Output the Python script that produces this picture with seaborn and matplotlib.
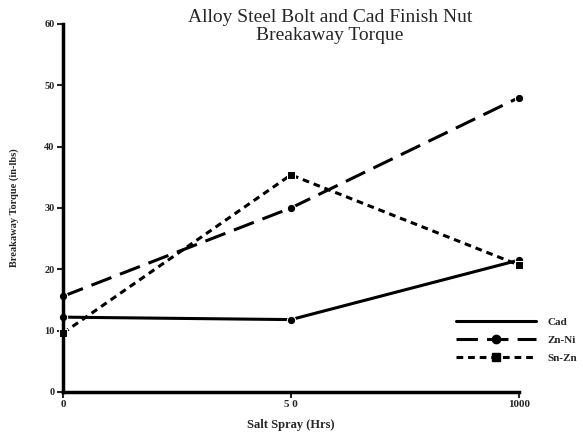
import numpy as np
import pandas as pd
import seaborn as sns
import matplotlib.pyplot as plt
from matplotlib.lines import Line2D

sns.set_style("white")
plt.rcParams["font.family"] = ["Liberation Serif", "DejaVu Serif"]

hours = ["0", "5 0", "1000"]
cad = [12.2, 11.8, 21.5]
zn_ni = [15.6, 30.0, 48.0]
sn_zn = [9.6, 35.4, 20.7]

df = pd.DataFrame({
    "pos": list(range(len(hours))) * 3,
    "torque": cad + zn_ni + sn_zn,
    "coating": ["Cad"] * 3 + ["Zn-Ni"] * 3 + ["Sn-Zn"] * 3,
})

fig = plt.figure(figsize=(5.83, 4.36), dpi=100)
ax = fig.add_axes([0.108, 0.101, 0.782, 0.844])

sns.lineplot(data=df, x="pos", y="torque", style="coating", color="black",
             dashes={"Cad": "", "Zn-Ni": (7, 3), "Sn-Zn": (2.2, 1.6)},
             markers={"Cad": "o", "Zn-Ni": "o", "Sn-Zn": "s"},
             markersize=6, linewidth=2.2, ax=ax, legend=False)
for ln in ax.lines:
    ln.set_clip_on(False)

ax.set_xlim(0, 2)
ax.set_ylim(0, 60)
ax.set_xticks(range(len(hours)))
ax.set_xticklabels(hours, fontsize=8, fontweight="bold")
ax.set_yticks(range(0, 61, 10))
ax.set_yticklabels([str(v) for v in range(0, 61, 10)], fontsize=7.5, fontweight="bold")
ax.tick_params(axis="both", direction="out", length=4, width=1.5, pad=2,
               bottom=True, left=True)
sns.despine(ax=ax)
for s in ["left", "bottom"]:
    ax.spines[s].set_linewidth(2.5)
    ax.spines[s].set_color("black")

ax.set_xlabel("Salt Spray (Hrs)", fontsize=9, fontweight="bold", labelpad=7)
ax.set_ylabel("Breakaway Torque (in-lbs)", fontsize=7.5, fontweight="bold", labelpad=18)

fig.text(0.566, 0.98, "Alloy Steel Bolt and Cad Finish Nut\nBreakaway Torque",
         ha="center", va="top", fontsize=14, linespacing=1.1)

handles = [
    Line2D([], [], color="black", lw=2.2),
    Line2D([], [], color="black", lw=2.2, ls=(0, (7, 3)), marker="o", markersize=6, markevery=[1]),
    Line2D([], [], color="black", lw=2.2, ls=(0, (2.2, 1.6)), marker="s", markersize=6, markevery=[1]),
]
leg = fig.legend(handles, ["Cad", "Zn-Ni", "Sn-Zn"], loc="upper left",
                 bbox_to_anchor=(0.765, 0.296), frameon=False, handlelength=7.2,
                 prop={"weight": "bold", "size": 8}, labelspacing=0.75,
                 handletextpad=1.0)

fig.savefig("out.png", dpi=100)
